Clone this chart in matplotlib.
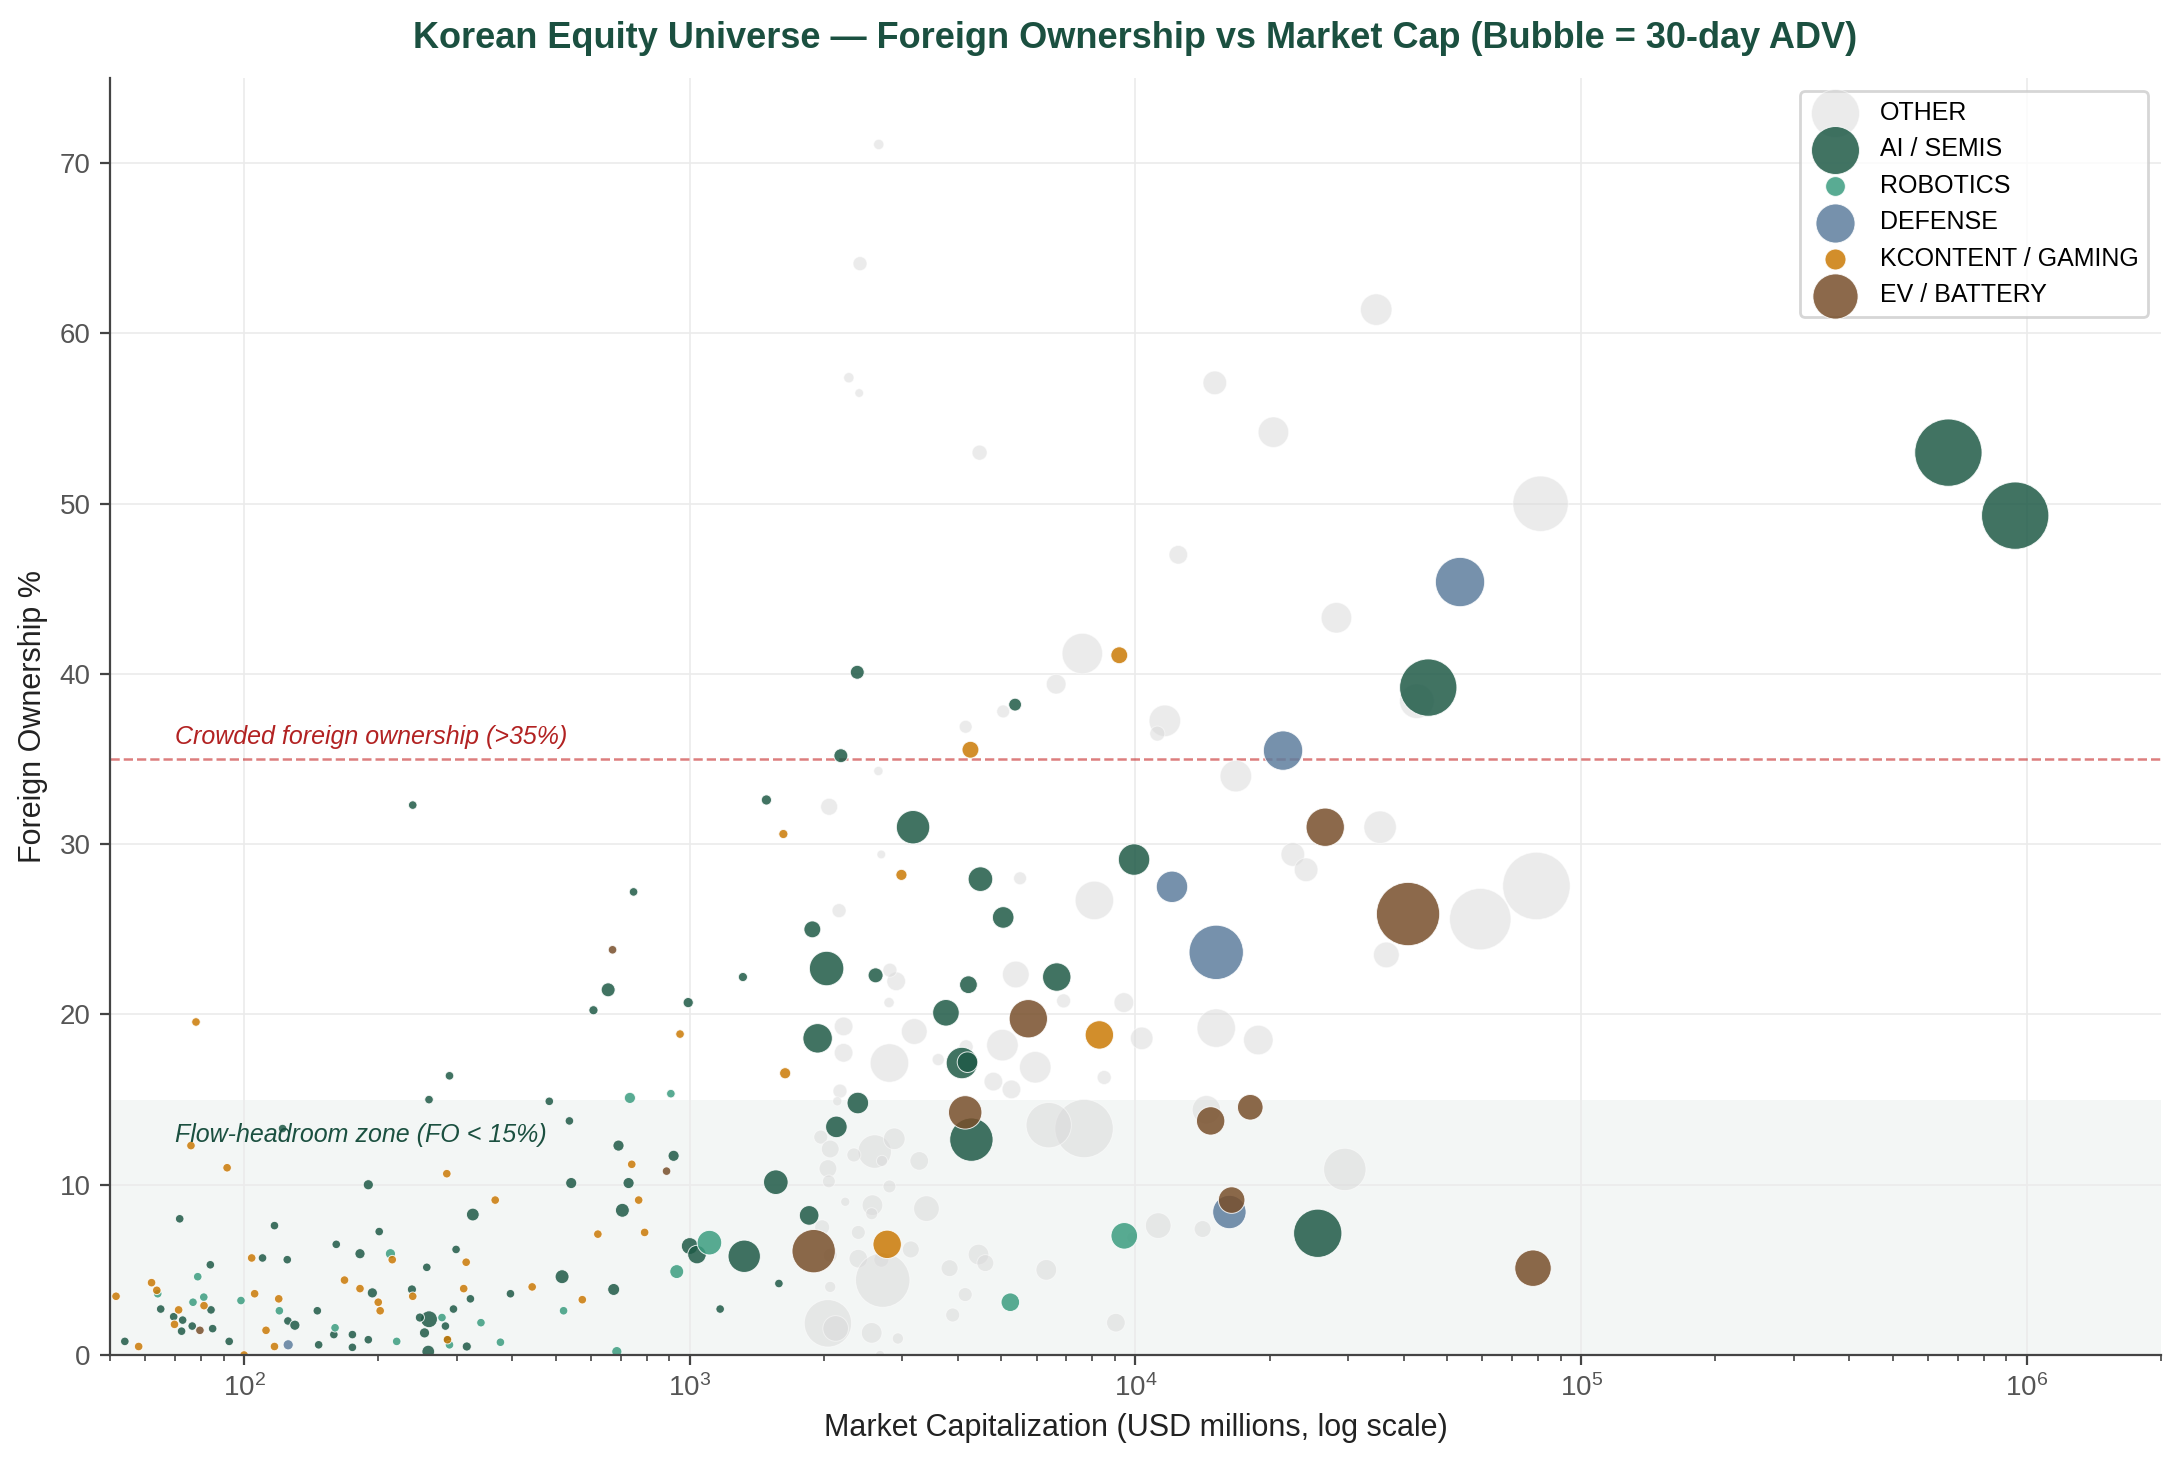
import matplotlib

matplotlib.use("Agg")
import matplotlib.pyplot as plt
import numpy as np

plt.rcParams["font.family"] = ["Liberation Sans", "DejaVu Sans"]

# market cap (USD mn), foreign ownership (%), 30-day ADV (USD mn) per theme
OTHER_MCAP = [2655, 2410, 2275, 2400, 4470, 34700, 15070, 20400, 81100, 12480,
              28250, 7600, 6640, 5050, 4160, 11640, 11200, 2650, 16800, 35400,
              22550, 24150, 79400, 59400, 8090, 2055, 2690, 5510, 2163, 36560,
              5390, 2905, 2813, 42800, 6900, 9420, 10330, 15180, 18870, 5030,
              5960, 4170, 4800, 5270, 8510, 3610, 3190, 2806, 2800, 2214,
              2214, 2173, 2143, 1968, 2066, 2042, 2052, 2600, 2877, 2335,
              2700, 3273, 2806, 2233, 2570, 3397, 2560, 1982, 2066, 2389,
              2389, 2691, 3133, 4446, 4605, 3828, 2710, 2066, 4150, 3890,
              2042, 2125, 2560, 2931, 2673, 6310, 9040, 11250, 14150, 29500,
              14430, 9840, 7670, 6390]
OTHER_FO = [71.1, 64.1, 57.4, 56.5, 53.0, 61.4, 57.1, 54.2, 50.0, 47.0,
            43.3, 41.2, 39.4, 37.8, 36.9, 37.25, 36.5, 34.3, 34.0, 31.0,
            29.4, 28.5, 27.55, 25.6, 26.7, 32.2, 29.4, 28.0, 26.1, 23.5,
            22.35, 21.95, 22.6, 38.4, 20.8, 20.7, 18.6, 19.2, 18.5, 18.2,
            16.9, 18.1, 16.06, 15.6, 16.3, 17.35, 19.0, 17.15, 20.7, 19.3,
            17.75, 15.5, 14.9, 12.8, 12.1, 10.95, 10.2, 11.95, 12.7, 11.75,
            11.4, 11.4, 9.9, 9.0, 8.8, 8.6, 8.3, 7.5, 5.86, 7.2,
            5.66, 5.6, 6.2, 5.9, 5.4, 5.1, 4.4, 4.0, 3.55, 2.35,
            1.86, 1.56, 1.3, 0.97, 0.0, 5.0, 1.9, 7.6, 7.4, 10.9,
            14.4, 6.9, 13.3, 13.5]
OTHER_ADV = [8, 17, 8, 5, 20, 96, 53, 90, 302, 32,
             90, 160, 36, 14, 14, 96, 20, 6, 96, 102,
             53, 53, 449, 372, 144, 26, 5, 14, 17, 63,
             68, 32, 17, 116, 17, 36, 48, 144, 84, 96,
             96, 17, 32, 32, 17, 12, 63, 144, 8, 32,
             32, 17, 6, 17, 29, 29, 14, 109, 44, 17,
             10, 32, 14, 6, 40, 63, 12, 20, 17, 17,
             32, 20, 26, 40, 26, 26, 292, 10, 17, 17,
             221, 63, 40, 10, 6, 40, 32, 63, 26, 176,
             78, 10, 336, 202]

AI_MCAP = [667000, 942000, 45400, 25650, 9930, 2376, 5370, 2183, 1486, 3170,
           748, 4490, 5050, 1884, 2028, 2612, 4220, 6660, 1316, 656,
           608, 239, 1936, 3757, 4080, 4200, 992, 289, 260, 484,
           537, 692, 122, 2383, 2133, 4285, 1560, 1853, 1325, 1000,
           1038, 1585, 1170, 920, 190, 542, 729, 326, 706, 71.7,
           117, 201, 161, 182, 299, 110, 125, 257, 517, 675,
           396, 194, 238, 322, 295, 260, 248, 283, 254, 316,
           259, 286, 54, 65, 84, 84.3, 69.5, 72.8, 76.5, 85,
           72.4, 92.6, 146, 125.4, 130, 159, 175, 190, 147, 175]
AI_FO = [53.0, 49.3, 39.2, 7.15, 29.1, 40.1, 38.2, 35.2, 32.6, 31.0,
         27.2, 27.95, 25.7, 25.0, 22.7, 22.3, 21.75, 22.2, 22.2, 21.45,
         20.25, 32.3, 18.6, 20.1, 17.15, 17.2, 20.7, 16.4, 15.0, 14.9,
         13.75, 12.3, 13.3, 14.8, 13.4, 12.65, 10.15, 8.2, 5.8, 6.4,
         5.9, 4.2, 2.7, 11.7, 10.0, 10.1, 10.1, 8.25, 8.5, 8.0,
         7.6, 7.25, 6.5, 5.95, 6.2, 5.7, 5.6, 5.15, 4.6, 3.85,
         3.6, 3.65, 3.85, 3.3, 2.7, 2.1, 2.2, 1.7, 1.3, 0.5,
         0.2, 0.9, 0.8, 2.7, 5.3, 2.65, 2.25, 2.05, 1.7, 1.55,
         1.4, 0.8, 2.6, 2.0, 1.75, 1.2, 1.2, 0.9, 0.6, 0.45]
AI_ADV = [449, 449, 325, 230, 96, 17, 14, 17, 8, 109,
          5, 58, 44, 26, 116, 20, 29, 78, 6, 17,
          6, 5, 84, 68, 96, 40, 8, 5, 5, 5,
          5, 10, 5, 44, 44, 185, 58, 36, 102, 26,
          32, 5, 5, 10, 8, 10, 10, 14, 17, 5,
          5, 5, 5, 8, 5, 5, 5, 5, 17, 12,
          5, 8, 6, 5, 5, 26, 6, 5, 8, 6,
          14, 5, 5, 5, 5, 5, 5, 5, 5, 5,
          5, 5, 5, 5, 8, 5, 5, 5, 5, 5]

ROB_MCAP = [1107, 935, 5240, 9440, 734, 907, 213, 521, 278, 340,
            376, 220, 98.4, 120, 64, 78.7, 76.8, 81.2, 160, 289, 686]
ROB_FO = [6.6, 4.9, 3.1, 7.0, 15.1, 15.35, 5.95, 2.6, 2.2, 1.9,
          0.75, 0.8, 3.2, 2.6, 3.6, 4.6, 3.1, 3.4, 1.6, 0.6, 0.2]
ROB_ADV = [58, 17, 32, 68, 10, 5, 8, 5, 5, 5,
           5, 5, 5, 5, 5, 5, 5, 5, 5, 5, 8]

DEF_MCAP = [53500, 21440, 12080, 15180, 16250, 125.6]
DEF_FO = [45.4, 35.5, 27.5, 23.65, 8.4, 0.6]
DEF_ADV = [240, 152, 96, 292, 109, 8]

KC_MCAP = [9200, 4264, 1622, 2985, 78, 951, 1637, 8300, 2773, 76,
           741, 91.6, 285, 768, 366, 622, 792, 215, 104, 315,
           443, 574, 168, 182, 239, 311, 200, 202, 105.6, 119.6,
           112, 117, 58, 51.6, 62, 63.7, 81.3, 71.3, 69.8, 286, 100]
KC_FO = [41.1, 35.55, 30.6, 28.2, 19.56, 18.85, 16.55, 18.8, 6.5, 12.3,
         11.2, 11.0, 10.65, 9.1, 9.1, 7.1, 7.2, 5.6, 5.7, 5.45,
         4.0, 3.25, 4.4, 3.9, 3.45, 3.9, 3.1, 2.6, 3.6, 3.3,
         1.45, 0.5, 0.5, 3.45, 4.25, 3.8, 2.9, 2.65, 1.8, 0.9, 0.0]
KC_ADV = [26, 26, 6, 10, 5, 5, 10, 78, 78, 5,
          5, 5, 5, 5, 5, 5, 5, 5, 5, 5,
          5, 5, 5, 5, 5, 5, 5, 5, 5, 5,
          5, 5, 5, 5, 5, 5, 5, 5, 5, 5, 5]

EV_MCAP = [40900, 26660, 5750, 4150, 1897, 14750, 18100, 16440, 78000, 671, 887, 79.6]
EV_FO = [25.9, 31.0, 19.75, 14.25, 6.1, 13.75, 14.55, 9.1, 5.1, 23.8, 10.8, 1.45]
EV_ADV = [397, 144, 144, 109, 185, 78, 63, 68, 130, 5, 5, 5]

THEMES = [
    ("OTHER", OTHER_MCAP, OTHER_FO, OTHER_ADV, "#d9d9d9", 0.5),
    ("AI / SEMIS", AI_MCAP, AI_FO, AI_ADV, "#1f5a47", 0.85),
    ("ROBOTICS", ROB_MCAP, ROB_FO, ROB_ADV, "#3c9d80", 0.85),
    ("DEFENSE", DEF_MCAP, DEF_FO, DEF_ADV, "#5e7e9e", 0.85),
    ("KCONTENT / GAMING", KC_MCAP, KC_FO, KC_ADV, "#ca7a06", 0.85),
    ("EV / BATTERY", EV_MCAP, EV_FO, EV_ADV, "#784f2b", 0.85),
]

GREEN = "#1b5040"


def bubble_size(adv):
    # bubble area grows linearly with ADV, small floor so tiny names stay visible
    return np.array(adv) * 1.3 + 3


fig, ax = plt.subplots(figsize=(10.905, 7.365), dpi=200)
fig.subplots_adjust(left=0.0504, right=0.9908, top=0.947, bottom=0.0801)

ax.axhspan(0, 15, color=GREEN, alpha=0.05, lw=0, zorder=0)
ax.axhline(35, color="#c62828", ls="--", lw=0.9, alpha=0.6, zorder=1)

for name, mcap, fo, adv, color, alpha in THEMES:
    ax.scatter(mcap, fo, s=bubble_size(adv), color=color, alpha=alpha,
               edgecolors="white", linewidths=0.35, label=name, zorder=2)

ax.text(70, 35.6, "Crowded foreign ownership (>35%)", color="#b22222",
        fontsize=9, style="italic", va="bottom")
ax.text(70, 12.2, "Flow-headroom zone (FO < 15%)", color=GREEN,
        fontsize=9, style="italic", va="bottom")

ax.set_xscale("log")
ax.set_xlim(50, 2e6)
ax.set_ylim(0, 75)
ax.set_yticks(range(0, 80, 10))

ax.set_axisbelow(True)
ax.grid(True, which="major", color="#ebebeb", lw=0.6)
for side in ("top", "right"):
    ax.spines[side].set_visible(False)
for side in ("left", "bottom"):
    ax.spines[side].set_color("#444444")
ax.tick_params(colors="#444444", labelcolor="#555555", labelsize=10)
ax.tick_params(which="minor", colors="#444444")

ax.set_xlabel("Market Capitalization (USD millions, log scale)", fontsize=11, color="#222222")
ax.set_ylabel("Foreign Ownership %", fontsize=11, color="#222222")
ax.set_title("Korean Equity Universe \u2014 Foreign Ownership vs Market Cap (Bubble = 30-day ADV)",
             fontsize=13, fontweight="bold", color=GREEN, pad=11)

leg = ax.legend(loc="upper right", fontsize=9, frameon=True, fancybox=True)
leg.get_frame().set_edgecolor("#cccccc")

fig.savefig("out.png", dpi=200)
